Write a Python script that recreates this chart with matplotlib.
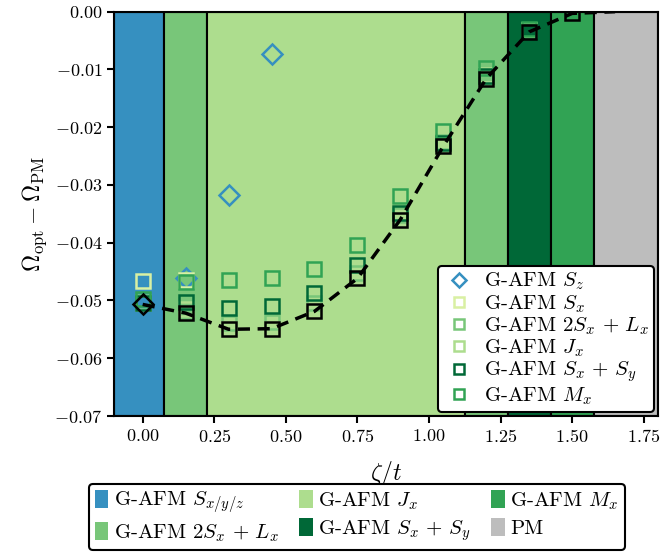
import matplotlib
matplotlib.use("Agg")
import matplotlib.pyplot as plt
from matplotlib.patches import Patch
from matplotlib.ticker import FormatStrFormatter

plt.rcParams["font.family"] = "serif"
plt.rcParams["font.serif"] = ["cmr10"]
plt.rcParams["mathtext.fontset"] = "cm"
plt.rcParams["axes.formatter.use_mathtext"] = True
plt.rcParams["axes.unicode_minus"] = True

# x grid of the scan
zeta = [0.0, 0.15, 0.3, 0.45, 0.6, 0.75, 0.9, 1.05, 1.2, 1.35, 1.5, 1.65]

# optimal solution (black)
omega_opt = [-0.0507, -0.0522, -0.0550, -0.0549, -0.0519, -0.0462,
             -0.0360, -0.0233, -0.0116, -0.0035, -0.0003, 0.0]

# individual ansatz energies
zeta_sz = [0.0, 0.15, 0.3, 0.45]
omega_sz = [-0.0507, -0.0462, -0.0317, -0.0073]

zeta_sx = [0.0, 0.15]
omega_sx = [-0.0467, -0.0465]

zeta_g = [0.0, 0.15, 0.3, 0.45, 0.6, 0.75, 0.9, 1.05, 1.2, 1.35, 1.5]
omega_2sxlx = [-0.0502, -0.0522, -0.0540, -0.0538, -0.0505, -0.0452,
               -0.0352, -0.0226, -0.0116, -0.0031, -0.0002]
omega_jx = [-0.0505, -0.0515, -0.0550, -0.0549, -0.0519, -0.0462,
            -0.0360, -0.0233, -0.0110, -0.0032, -0.0002]
omega_sxsy = [-0.0505, -0.0503, -0.0514, -0.0510, -0.0487, -0.0438,
              -0.0348, -0.0228, -0.0112, -0.0035, -0.0002]
omega_mx = [-0.0498, -0.0468, -0.0464, -0.0461, -0.0445, -0.0404,
            -0.0319, -0.0206, -0.0098, -0.0030, -0.0003]

# phase regions along zeta
phase_edges = [-0.1, 0.075, 0.225, 1.125, 1.275, 1.425, 1.575, 1.8]
phase_names = ["sxyz", "2sxlx", "jx", "2sxlx", "sxsy", "mx", "pm"]

colors = {
    "sz": "#3690c0",
    "sxyz": "#3690c0",
    "sx": "#d9f0a3",
    "2sxlx": "#78c679",
    "jx": "#addd8e",
    "sxsy": "#006837",
    "mx": "#31a354",
    "pm": "#bdbdbd",
}

fig = plt.figure(figsize=(6.63, 5.56), dpi=100)
ax = fig.add_axes([0.172, 0.252, 0.8205, 0.727])

for i, name in enumerate(phase_names):
    ax.axvspan(phase_edges[i], phase_edges[i + 1], facecolor=colors[name],
               edgecolor="k", linewidth=1.5, zorder=0)

ms = 10
mew = 1.8
ax.plot(zeta_sz, omega_sz, "D", ms=ms, mew=mew, mfc="none", color=colors["sz"],
        label=r"G-AFM $S_z$", zorder=2)
ax.plot(zeta_sx, omega_sx, "s", ms=ms, mew=mew, mfc="none", color=colors["sx"],
        label=r"G-AFM $S_x$", zorder=2)
ax.plot(zeta_g, omega_2sxlx, "s", ms=ms, mew=mew, mfc="none", color=colors["2sxlx"],
        label=r"G-AFM $2S_x\,+\,L_x$", zorder=2)
ax.plot(zeta_g, omega_jx, "s", ms=ms, mew=mew, mfc="none", color=colors["jx"],
        label=r"G-AFM $J_x$", zorder=2)
ax.plot(zeta_g, omega_sxsy, "s", ms=ms, mew=mew, mfc="none", color=colors["sxsy"],
        label=r"G-AFM $S_x\,+\,S_y$", zorder=2)
ax.plot(zeta_g, omega_mx, "s", ms=ms, mew=mew, mfc="none", color=colors["mx"],
        label=r"G-AFM $M_x$", zorder=2)

ax.plot(zeta, omega_opt, "--", color="k", lw=2.5, dashes=(3.5, 2.2), zorder=3)
ax.plot(zeta[:1], omega_opt[:1], "D", ms=ms, mew=mew, mfc="none", color="k", zorder=4)
ax.plot(zeta[1:-1], omega_opt[1:-1], "s", ms=ms, mew=mew, mfc="none", color="k", zorder=4)

ax.set_xlim(-0.1, 1.8)
ax.set_ylim(-0.07, 0.0)
ax.set_xticks([0, 0.25, 0.5, 0.75, 1.0, 1.25, 1.5, 1.75])
ax.set_yticks([-0.07, -0.06, -0.05, -0.04, -0.03, -0.02, -0.01, 0.0])
ax.xaxis.set_major_formatter(FormatStrFormatter(r"$%.2f$"))
ax.yaxis.set_major_formatter(FormatStrFormatter(r"$%.2f$"))
ax.tick_params(labelsize=13, width=1.5, length=5)
for sp in ax.spines.values():
    sp.set_linewidth(1.5)
ax.set_xlabel(r"$\zeta/t$", fontsize=17, labelpad=10)
ax.set_ylabel(r"$\Omega_{\rm opt}-\Omega_{\rm PM}$", fontsize=17)

leg = ax.legend(loc="lower right", fontsize=15, borderaxespad=0.2, markerscale=0.75,
                handlelength=1.5, handletextpad=0.45, labelspacing=0.03, borderpad=0.25,
                fancybox=True, framealpha=1.0)
leg.get_frame().set_edgecolor("k")
leg.get_frame().set_linewidth(1.5)

phase_labels = [
    ("sxyz", r"G-AFM $S_{x/y/z}$"),
    ("2sxlx", r"G-AFM $2S_x\,+\,L_x$"),
    ("jx", r"G-AFM $J_x$"),
    ("sxsy", r"G-AFM $S_x\,+\,S_y$"),
    ("mx", r"G-AFM $M_x$"),
    ("pm", r"PM"),
]
handles = [Patch(facecolor=colors[k], edgecolor="none", label=l) for k, l in phase_labels]
leg2 = fig.legend(handles=handles, loc="lower center", bbox_to_anchor=(0.538, -0.008),
                  ncol=3, fontsize=15, handlelength=0.65, handleheight=0.95,
                  handletextpad=0.25, columnspacing=1.0, labelspacing=0.3,
                  borderpad=0.3, fancybox=True, framealpha=1.0)
leg2.get_frame().set_edgecolor("k")
leg2.get_frame().set_linewidth(1.5)

fig.savefig("out.png", dpi=100)
